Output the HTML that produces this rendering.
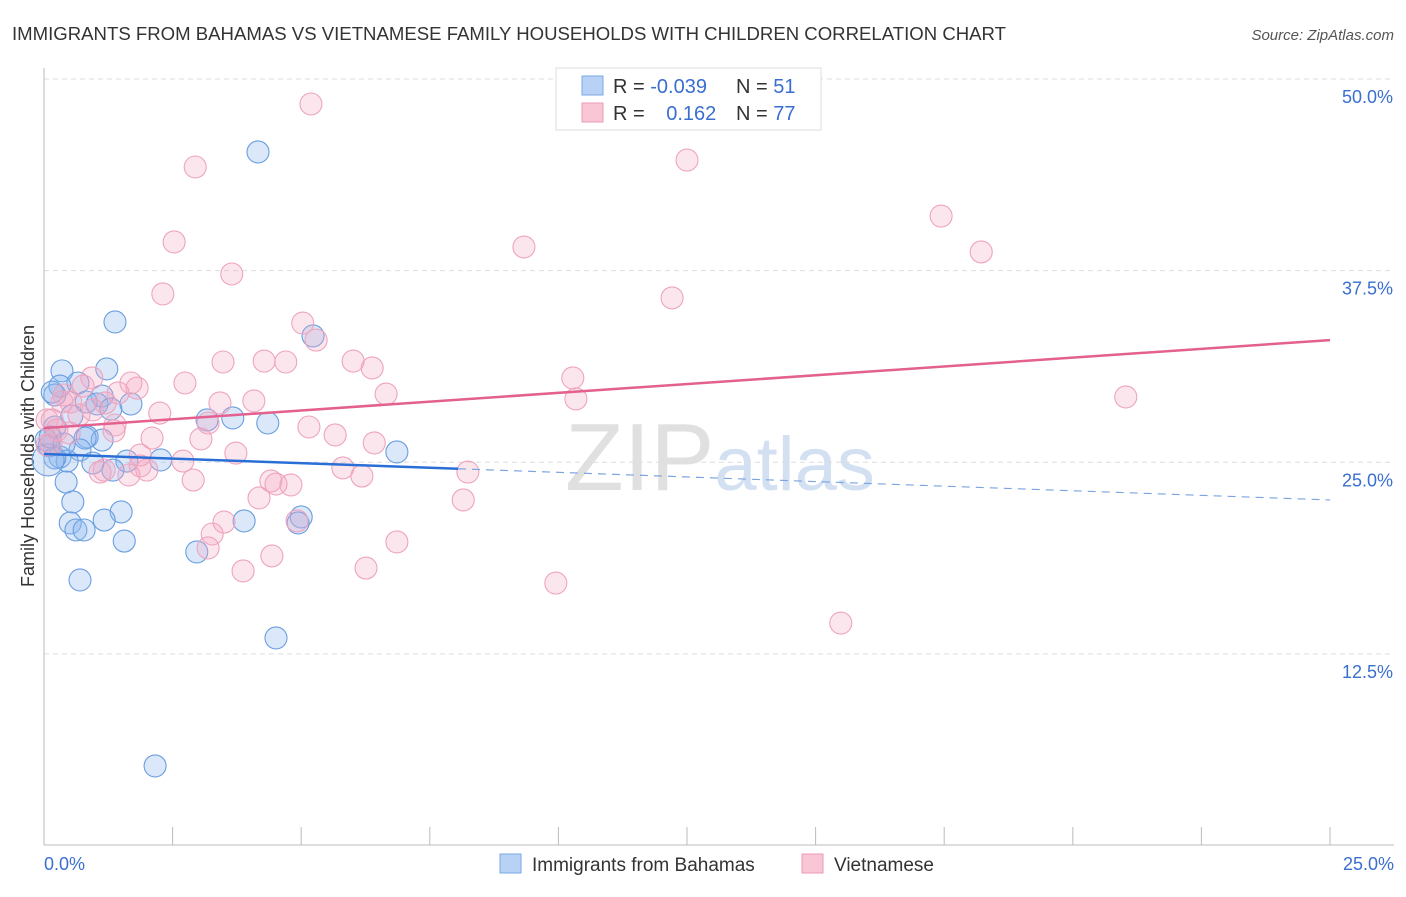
<!DOCTYPE html>
<html><head><meta charset="utf-8"><style>
body{margin:0;background:#fff;font-family:"Liberation Sans",sans-serif;}
svg text{font-family:"Liberation Sans",sans-serif;}
</style></head><body>
<svg width="1406" height="892" xmlns="http://www.w3.org/2000/svg">
<text x="12" y="40" font-size="18" fill="#333" textLength="994" lengthAdjust="spacingAndGlyphs">IMMIGRANTS FROM BAHAMAS VS VIETNAMESE FAMILY HOUSEHOLDS WITH CHILDREN CORRELATION CHART</text>
<text x="1394" y="40" font-size="15" fill="#555" text-anchor="end" font-style="italic">Source: ZipAtlas.com</text>
<text x="720" y="490" font-size="96" fill="#ddd" text-anchor="middle" font-family="Liberation Serif"><tspan fill="#e0e0e0">ZIP</tspan><tspan fill="#d3e0f2" font-family="Liberation Sans" font-size="76">atlas</tspan></text>
<g id="grid"></g>
<line x1="44" y1="68" x2="44" y2="845" stroke="#bbb"/>
<line x1="44" y1="845" x2="1394" y2="845" stroke="#bbb"/>
<g id="xticks"></g>
<text transform="translate(34,456) rotate(-90)" font-size="18" fill="#333" text-anchor="middle">Family Households with Children</text>
<text x="44" y="870" font-size="18" fill="#3a6fd0">0.0%</text>
<text x="1394" y="870" font-size="18" fill="#3a6fd0" text-anchor="end">25.0%</text>
<g id="points"></g>
<g id="lines"></g>
<g>
<rect x="556" y="68" width="265" height="62" fill="#fff" stroke="#ddd"/>
<rect x="582" y="76" width="21" height="19" fill="#b8d2f5" stroke="#7aa8e6"/>
<rect x="582" y="103" width="21" height="19" fill="#f9c6d6" stroke="#ec9ab5"/>
<text x="613" y="93" font-size="20" fill="#333">R = <tspan fill="#3a6fd0">-0.039</tspan></text>
<text x="736" y="93" font-size="20" fill="#333">N = <tspan fill="#3a6fd0"> 51</tspan></text>
<text x="613" y="120" font-size="20" fill="#333">R = <tspan fill="#3a6fd0" dx="16">0.162</tspan></text>
<text x="736" y="120" font-size="20" fill="#333">N = <tspan fill="#3a6fd0">77</tspan></text>
</g>
<g>
<rect x="500" y="854" width="21" height="19" fill="#b8d2f5" stroke="#7aa8e6"/>
<text x="532" y="871" font-size="19" fill="#333">Immigrants from Bahamas</text>
<rect x="802" y="854" width="21" height="19" fill="#f9c6d6" stroke="#ec9ab5"/>
<text x="834" y="871" font-size="19" fill="#333">Vietnamese</text>
</g>
</svg>
<script>
const yTicks=[12.5,25,37.5,50];
const yTickLabels=["12.5%","25.0%","37.5%","50.0%"];
const blueX=[4.16,1.38,5.23,1.22,0.35,0.66,0.31,0.21,1.13,0.82,1.03,1.69,1.30,0.54,3.17,3.67,4.35,0.21,0.84,0.04,1.13,0.80,0.10,0.70,0.31,0.45,0.21,2.27,1.61,0.95,1.34,6.86,0.43,0.56,1.50,0.51,1.17,3.89,5.00,4.94,0.62,0.78,1.56,2.97,0.70,4.51,2.16,0.08,0.12,0.16,0.39];
const blueY=[45.24,34.15,33.24,31.09,30.96,30.17,29.97,29.39,29.32,28.93,28.80,28.80,28.47,28.02,27.76,27.89,27.56,27.30,26.65,26.45,26.45,26.58,26.06,25.80,25.34,25.08,25.28,25.15,25.08,24.95,24.49,25.67,23.71,22.41,21.76,21.04,21.23,21.17,21.43,21.04,20.58,20.58,19.86,19.15,17.32,13.54,5.19,25.15,26.65,29.58,26.19];
const pinkX=[5.19,2.94,12.50,17.44,2.53,9.33,18.22,3.65,2.31,12.21,5.03,5.29,3.48,4.28,4.70,6.01,6.38,10.28,0.93,2.74,1.69,1.81,1.44,6.65,21.03,10.34,0.39,0.52,3.42,4.08,1.19,2.25,0.68,3.19,1.38,5.15,2.10,3.05,5.66,6.42,0.49,3.73,0.06,0.25,2.70,1.87,2.00,1.17,1.09,5.81,8.24,1.65,6.18,2.90,4.41,4.51,4.80,4.18,8.15,3.50,3.27,4.92,3.19,6.86,4.43,6.26,3.87,9.95,15.49,0.76,1.36,0.14,0.35,1.87,0.95,0.16,0.06];
const pinkY=[48.37,44.26,44.71,41.06,39.37,39.04,38.72,37.28,35.98,35.72,34.08,32.97,31.54,31.60,31.54,31.60,31.15,30.50,30.50,30.17,30.17,29.84,29.52,29.45,29.26,29.13,29.39,28.93,28.87,29.00,28.87,28.21,28.08,27.56,27.43,27.30,26.58,26.52,26.78,26.26,26.91,25.60,27.76,27.10,25.08,24.76,24.49,24.49,24.36,24.63,24.36,24.17,24.10,23.84,23.78,23.58,23.52,22.67,22.54,21.10,20.32,21.17,19.41,19.80,18.89,18.10,17.91,17.12,14.51,29.97,27.04,26.19,28.93,25.47,28.41,27.76,26.13];
const blueTrend=[25.54,22.54];
const pinkTrend=[27.23,32.97];
const blueSolidEnd=8.05;
const NS="http://www.w3.org/2000/svg";
function X(v){return 44+v/25*1286;}
function Y(v){return 79+(50-v)*15.33;}
function mk(t,a,p){const e=document.createElementNS(NS,t);for(const k in a)e.setAttribute(k,a[k]);p.appendChild(e);return e;}
const grid=document.getElementById('grid');
yTicks.forEach((t,i)=>{
 const l=mk('line',{x1:44,x2:1394,y1:Y(t),y2:Y(t),stroke:'#ddd','stroke-dasharray':'5,4'},grid);
 
 
 const tx=mk('text',{x:1393,y:Y(t)+24,'font-size':18,fill:'#3a6fd0','text-anchor':'end'},grid);
 tx.textContent=yTickLabels[i];
 
 
});
const xt=document.getElementById('xticks');
for(let i=0;i<=10;i++){const l=mk('line',{x1:X(i*2.5),x2:X(i*2.5),y1:827,y2:845,stroke:'#bbb'},xt);
 
 }
const pts=document.getElementById('points');
blueX.forEach((x,i)=>{const c=mk('circle',{cx:X(x),cy:Y(blueY[i]),r:(i==47?16:11),fill:'rgba(140,182,238,0.32)',stroke:'#6a9ee0','stroke-width':1.1},pts);
 
 });
pinkX.forEach((x,i)=>{const c=mk('circle',{cx:X(x),cy:Y(pinkY[i]),r:11,fill:'rgba(245,165,195,0.28)',stroke:'#eea4be','stroke-width':1.1},pts);
 
 });
const ln=document.getElementById('lines');
const bm=blueTrend[0]+(blueTrend[1]-blueTrend[0])*blueSolidEnd/25;
const b1=mk('line',{x1:X(0),y1:Y(blueTrend[0]),x2:X(blueSolidEnd),y2:Y(bm),stroke:'#2a6fd6','stroke-width':2.5},ln);


const b2=mk('line',{x1:X(blueSolidEnd),y1:Y(bm),x2:X(25),y2:Y(blueTrend[1]),stroke:'#7aa4e0','stroke-width':1.2,'stroke-dasharray':'8,6'},ln);


const p1=mk('line',{x1:X(0),y1:Y(pinkTrend[0]),x2:X(25),y2:Y(pinkTrend[1]),stroke:'#e3608f','stroke-width':2.5},ln);


</script>
</body></html>
